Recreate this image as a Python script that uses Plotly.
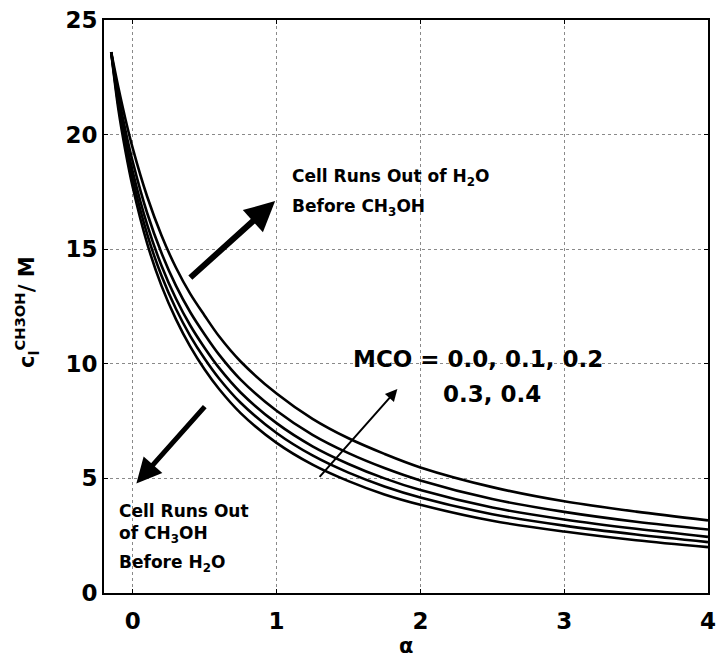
import plotly.graph_objects as go

# Initial methanol concentration versus alpha for several MCO values
alpha = [-0.15, -0.1, -0.05, 0.0, 0.1, 0.2, 0.3, 0.4, 0.5, 0.6, 0.75, 1.0, 1.25, 1.5, 1.75,
         2.0, 2.5, 3.0, 3.5, 4.0]

mco_labels = ["0.0", "0.1", "0.2", "0.3", "0.4"]
c_mco_00 = [23.6, 21.10, 19.25, 17.70, 15.25, 13.40, 11.95, 10.75, 9.75, 8.90, 7.85, 6.55, 5.60,
            4.88, 4.30, 3.85, 3.15, 2.68, 2.30, 2.00]
c_mco_01 = [23.6, 21.29, 19.53, 18.04, 15.66, 13.84, 12.40, 11.21, 10.22, 9.36, 8.30, 6.98, 6.00,
            5.25, 4.65, 4.17, 3.44, 2.94, 2.55, 2.22]
c_mco_02 = [23.6, 21.48, 19.81, 18.38, 16.07, 14.28, 12.85, 11.67, 10.69, 9.82, 8.75, 7.41, 6.40,
            5.63, 5.00, 4.49, 3.73, 3.21, 2.80, 2.45]
c_mco_03 = [23.6, 21.72, 20.16, 18.81, 16.58, 14.83, 13.41, 12.25, 11.28, 10.40, 9.31, 7.95, 6.90,
            6.10, 5.45, 4.91, 4.10, 3.54, 3.11, 2.77]
c_mco_04 = [23.6, 22.05, 20.65, 19.40, 17.30, 15.60, 14.20, 13.05, 12.10, 11.20, 10.10, 8.70, 7.60,
            6.75, 6.07, 5.48, 4.62, 4.00, 3.55, 3.17]
series = [c_mco_00, c_mco_01, c_mco_02, c_mco_03, c_mco_04]

x_ticks = [0, 1, 2, 3, 4]
y_ticks = [0, 5, 10, 15, 20, 25]

FONT = "DejaVu Sans"

fig = go.Figure()
for lab, vals in zip(mco_labels, series):
    fig.add_trace(go.Scatter(
        x=alpha, y=vals, mode="lines", name="MCO = " + lab,
        line=dict(color="black", width=2.6, shape="spline", smoothing=0.9),
        showlegend=False,
    ))

axis_common = dict(
    showline=True, linecolor="black", linewidth=2, mirror="ticks",
    ticks="inside", ticklen=4, tickcolor="black",
    showgrid=True, gridcolor="#8a8a8a", griddash="dot", gridwidth=1,
    zeroline=False,
    tickfont=dict(family=FONT, size=23, color="black", weight="bold"),
)

fig.update_xaxes(range=[-0.2, 4], tickvals=x_ticks, ticktext=[f"<b>{v}</b>" for v in x_ticks],
                 ticklabelstandoff=6, **axis_common)
fig.update_yaxes(range=[0, 25], tickvals=y_ticks, ticktext=[f"<b>{v}</b>" for v in y_ticks], **axis_common)

annotations = []

# thick arrows showing the two depletion regimes
annotations.append(dict(x=0.99, y=17.1, ax=0.39, ay=13.7, xref="x", yref="y", axref="x", ayref="y",
                        showarrow=True, arrowhead=2, arrowsize=1, arrowwidth=6, arrowcolor="black", text=""))
annotations.append(dict(x=0.025, y=4.78, ax=0.51, ay=8.2, xref="x", yref="y", axref="x", ayref="y",
                        showarrow=True, arrowhead=2, arrowsize=1, arrowwidth=5, arrowcolor="black", text=""))
# thin arrow in the direction of increasing MCO
annotations.append(dict(x=1.84, y=8.9, ax=1.29, ay=5.0, xref="x", yref="y", axref="x", ayref="y",
                        showarrow=True, arrowhead=2, arrowsize=1.2, arrowwidth=2, arrowcolor="black", text=""))

small = dict(family=FONT, size=17, color="black")
big = dict(family=FONT, size=23, color="black")

annotations += [
    dict(x=1.09, y=18.13, xref="x", yref="y", xanchor="left", yanchor="middle", showarrow=False,
         text="<b>Cell Runs Out of H<sub>2</sub>O</b>", font=small),
    dict(x=1.09, y=16.8, xref="x", yref="y", xanchor="left", yanchor="middle", showarrow=False,
         text="<b>Before CH<sub>3</sub>OH</b>", font=small),
    dict(x=-0.11, y=3.57, xref="x", yref="y", xanchor="left", yanchor="middle", showarrow=False,
         text="<b>Cell Runs Out</b>", font=small),
    dict(x=-0.11, y=2.57, xref="x", yref="y", xanchor="left", yanchor="middle", showarrow=False,
         text="<b>of CH<sub>3</sub>OH</b>", font=small),
    dict(x=-0.11, y=1.28, xref="x", yref="y", xanchor="left", yanchor="middle", showarrow=False,
         text="<b>Before H<sub>2</sub>O</b>", font=small),
    dict(x=2.40, y=10.2, xref="x", yref="y", xanchor="center", yanchor="middle", showarrow=False,
         text="<b>MCO = 0.0, 0.1, 0.2</b>", font=big),
    dict(x=2.50, y=8.7, xref="x", yref="y", xanchor="center", yanchor="middle", showarrow=False,
         text="<b>0.3, 0.4</b>", font=big),
    # axis titles
    dict(x=0.5, y=-0.093, xref="paper", yref="paper", xanchor="center", yanchor="middle", showarrow=False,
         text="<b>α</b>", font=dict(family=FONT, size=21, color="black")),
    dict(x=-0.128, y=0.49, xref="paper", yref="paper", xanchor="center", yanchor="middle", showarrow=False,
         textangle=-90, text="<b>c<sub>l</sub><sup>CH3OH</sup>/ M</b>",
         font=dict(family=FONT, size=21, color="black")),
]

fig.update_layout(
    width=723, height=660,
    margin=dict(l=104, r=7, t=18, b=67),
    paper_bgcolor="white", plot_bgcolor="white",
    annotations=annotations,
)

fig.write_html("out.html")
